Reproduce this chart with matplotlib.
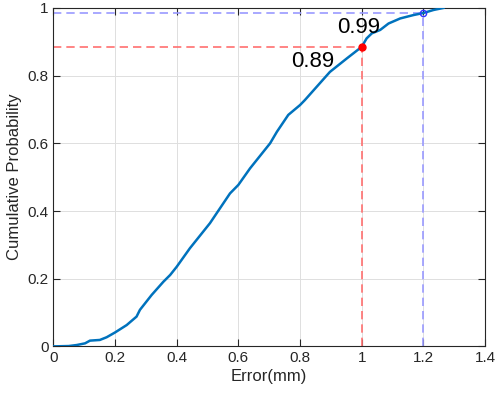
import matplotlib
matplotlib.use("Agg")
import matplotlib.pyplot as plt

plt.rcParams['font.family'] = ['Liberation Sans', 'DejaVu Sans']

# CDF curve
err = [0.0, 0.05, 0.076, 0.103, 0.119, 0.151, 0.173, 0.2, 0.238, 0.27, 0.281, 0.319, 0.357,
       0.379, 0.4, 0.443, 0.508, 0.573, 0.600, 0.638, 0.703, 0.725, 0.762, 0.800,
       0.816, 0.897, 0.952, 1.0, 1.016, 1.033, 1.06, 1.087, 1.125, 1.168, 1.2, 1.233, 1.265]
prob = [0.0, 0.001, 0.004, 0.009, 0.017, 0.019, 0.027, 0.041, 0.063, 0.088, 0.108, 0.152, 0.191,
        0.211, 0.235, 0.290, 0.364, 0.452, 0.477, 0.526, 0.600, 0.634, 0.684, 0.713,
        0.728, 0.811, 0.851, 0.885, 0.910, 0.925, 0.935, 0.954, 0.969, 0.979, 0.985, 0.994, 1.0]

mark_x = [1.0, 1.2]
mark_y = [0.885, 0.985]
mark_text = ['0.89', '0.99']

xticks = [0, 0.2, 0.4, 0.6, 0.8, 1.0, 1.2, 1.4]
xticklabels = ['0', '0.2', '0.4', '0.6', '0.8', '1', '1.2', '1.4']
yticks = [0, 0.2, 0.4, 0.6, 0.8, 1.0]
yticklabels = ['0', '0.2', '0.4', '0.6', '0.8', '1']

fig = plt.figure(figsize=(4.98, 3.97), dpi=100)
ax = fig.add_axes([0.107, 0.1275, 0.867, 0.8525])

axc = '#262626'
ax.grid(True, color='#dedede', linewidth=0.7)
ax.set_axisbelow(True)

# dashed guide lines
ax.plot([0, mark_x[0]], [mark_y[0], mark_y[0]], '--', color='#ff7070', lw=1.2, dashes=(5, 3))
ax.plot([mark_x[0], mark_x[0]], [0, mark_y[0]], '--', color='#ff7070', lw=1.2, dashes=(5, 3))
ax.plot([0, mark_x[1]], [mark_y[1], mark_y[1]], '--', color='#9a9aff', lw=1.2, dashes=(5, 3))
ax.plot([mark_x[1], mark_x[1]], [0, mark_y[1]], '--', color='#9a9aff', lw=1.2, dashes=(5, 3))

ax.plot(err, prob, color='#0072BD', lw=1.8, zorder=3)

ax.plot(mark_x[0], mark_y[0], 'o', color='red', ms=5, zorder=4)
ax.plot(mark_x[1], mark_y[1], 'o', mfc='none', mec='#3333ff', ms=4.5, mew=1, zorder=4)

ax.text(0.772, 0.826, mark_text[0], fontsize=16, color='black')
ax.text(0.921, 0.926, mark_text[1], fontsize=16, color='black')

ax.set_xlim(0, 1.4)
ax.set_ylim(0, 1)
ax.set_xticks(xticks)
ax.set_xticklabels(xticklabels)
ax.set_yticks(yticks)
ax.set_yticklabels(yticklabels)
ax.tick_params(direction='in', top=True, right=True, length=5, colors=axc, labelsize=11, labelcolor=axc)
for s in ax.spines.values():
    s.set_color(axc)
    s.set_linewidth(0.8)

ax.set_xlabel('Error(mm)', fontsize=12, color=axc, labelpad=3)
ax.set_ylabel('Cumulative Probability', fontsize=12, color=axc, labelpad=4)

fig.savefig('out.png', dpi=100)
